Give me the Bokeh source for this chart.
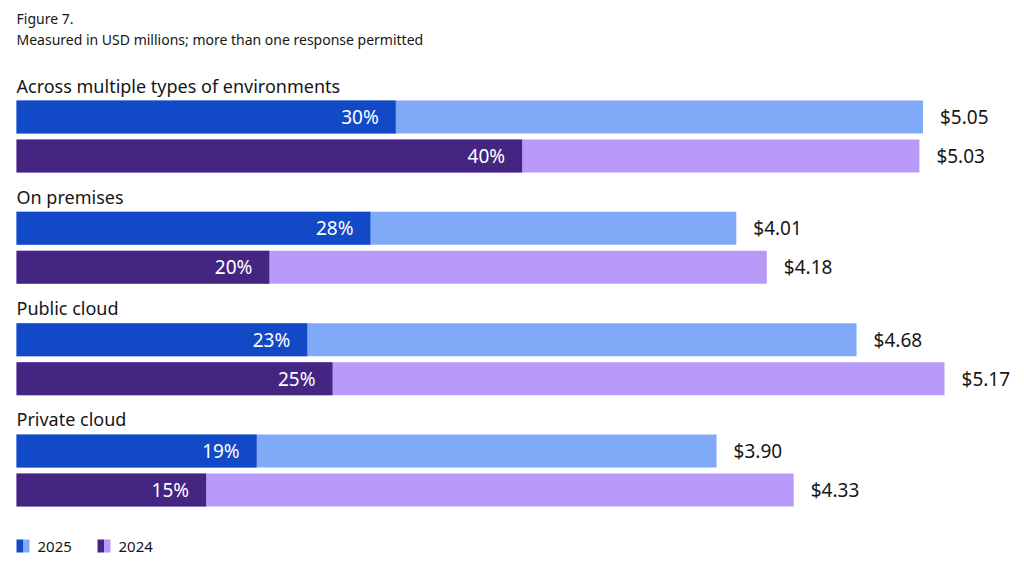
from bokeh.plotting import figure
from bokeh.models import Range1d, Label, ColumnDataSource
from bokeh.core.properties import value
from bokeh.embed import file_html
from bokeh.resources import INLINE

# ---- data ----
categories = ["Across multiple types of environments", "On premises", "Public cloud", "Private cloud"]
cost_2025 = [5.05, 4.01, 4.68, 3.90]
cost_2024 = [5.03, 4.18, 5.17, 4.33]
pct_2025 = [30, 28, 23, 19]
pct_2024 = [40, 20, 25, 15]
years = ["2025", "2024"]

title_text = "Figure 7."
subtitle_text = "Measured in USD millions; more than one response permitted"

# ---- style ----
FONT = "Noto Sans"
DARK_BLUE, LIGHT_BLUE = "#1249c6", "#80a9f7"
DARK_PURPLE, LIGHT_PURPLE = "#452582", "#b99af8"

W, H = 1016, 558
S = 179.5     # px per USD million
P = 12.64     # px per percent
X0 = 16       # x of bar origin

p = figure(width=W, height=H, output_backend="svg", toolbar_location=None,
           x_range=Range1d(-X0 / S, (W - X0) / S),
           y_range=Range1d(H, 0),
           min_border=0)
p.extra_x_ranges = {"pct": Range1d(-X0 / P, (W - X0) / P)}
p.axis.visible = False
p.grid.visible = False
p.outline_line_color = None
p.background_fill_color = "white"
p.border_fill_color = "white"

GROUP = 111.33
BAR_H = 33
y25 = [116.5 + i * GROUP for i in range(len(categories))]
y24 = [y + 39 for y in y25]
ylab = [y - 31.5 for y in y25]

src = ColumnDataSource(dict(cat=categories, c25=cost_2025, c24=cost_2024,
                            p25=pct_2025, p24=pct_2024, y25=y25, y24=y24, ylab=ylab,
                            zero=[0] * len(categories),
                            l25=[f"{v}%" for v in pct_2025], l24=[f"{v}%" for v in pct_2024],
                            v25=[f"${v:.2f}" for v in cost_2025], v24=[f"${v:.2f}" for v in cost_2024]))

# light full bars (cost)
p.hbar(y="y25", left="zero", right="c25", height=BAR_H, source=src, fill_color=LIGHT_BLUE, line_color=None)
p.hbar(y="y24", left="zero", right="c24", height=BAR_H, source=src, fill_color=LIGHT_PURPLE, line_color=None)
# dark bars (share)
p.hbar(y="y25", left="zero", right="p25", height=BAR_H, source=src, fill_color=DARK_BLUE, line_color=None, x_range_name="pct")
p.hbar(y="y24", left="zero", right="p24", height=BAR_H, source=src, fill_color=DARK_PURPLE, line_color=None, x_range_name="pct")

# percent labels
for ycol, lcol, pcol in (("y25", "l25", "p25"), ("y24", "l24", "p24")):
    p.text(x=pcol, y=ycol, text=lcol, source=src, x_range_name="pct", x_offset=-17,
           text_align="right", text_baseline="middle", text_color="white",
           text_font=value(FONT), text_font_size="19px")
# value labels
for ycol, vcol, ccol in (("y25", "v25", "c25"), ("y24", "v24", "c24")):
    p.text(x=ccol, y=ycol, text=vcol, source=src, x_offset=17,
           text_align="left", text_baseline="middle", text_color="#161616",
           text_font=value(FONT), text_font_size="19px")
# category labels
p.text(x="zero", y="ylab", text="cat", source=src, text_align="left", text_baseline="middle",
       text_color="#161616", text_font=value(FONT), text_font_size="18px")

def px(xpix):
    return (xpix - X0) / S

# title / subtitle
p.add_layout(Label(x=px(16), y=18, text=title_text, text_align="left", text_baseline="middle",
                   text_font=FONT, text_font_size="14px", text_color="#161616"))
p.add_layout(Label(x=px(16), y=39, text=subtitle_text, text_align="left", text_baseline="middle",
                   text_font=FONT, text_font_size="14px", text_color="#161616"))

# legend
leg = [(16, DARK_BLUE, LIGHT_BLUE, 37), (97, DARK_PURPLE, LIGHT_PURPLE, 118)]
for (sx, dk, lt, tx), yr in zip(leg, years):
    p.quad(left=px(sx), right=px(sx + 6.5), top=539, bottom=552, fill_color=dk, line_color=None)
    p.quad(left=px(sx + 6.5), right=px(sx + 13), top=539, bottom=552, fill_color=lt, line_color=None)
    p.add_layout(Label(x=px(tx), y=546, text=yr, text_align="left", text_baseline="middle",
                       text_font=FONT, text_font_size="15px", text_color="#161616"))

open("out.html", "w").write(file_html(p, INLINE))
